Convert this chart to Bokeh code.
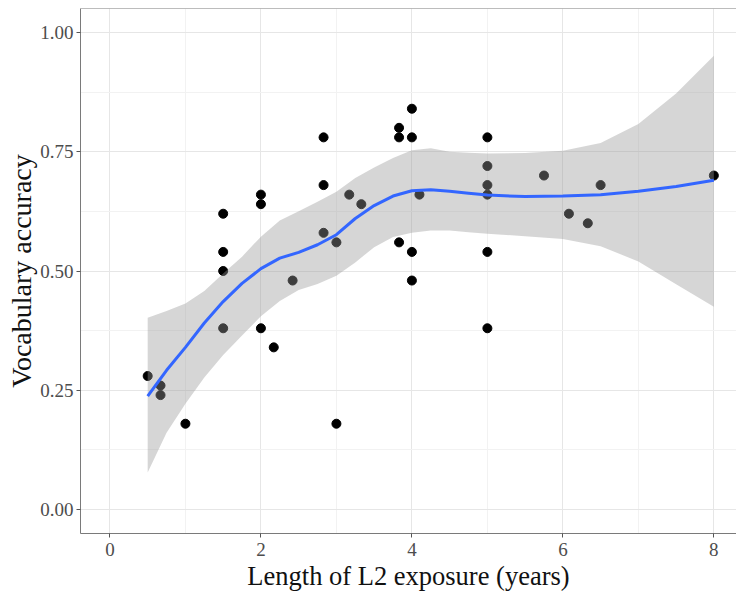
from bokeh.plotting import figure
from bokeh.models import Range1d, FixedTicker, Span
from bokeh.embed import file_html
from bokeh.resources import INLINE

# Observed data (years of L2 exposure, vocabulary accuracy)
exposure = [0.5, 0.67, 0.67, 1.0, 1.5, 1.5, 1.5, 1.5, 2.0, 2.0, 2.0, 2.17,
            2.42, 2.83, 2.83, 2.83, 3.0, 3.0, 3.17, 3.33, 3.83, 3.83, 3.83,
            4.0, 4.0, 4.0, 4.0, 4.1, 5.0, 5.0, 5.0, 5.0, 5.0, 5.0, 5.75,
            6.08, 6.33, 6.5, 8.0]
accuracy = [0.28, 0.26, 0.24, 0.18, 0.62, 0.54, 0.50, 0.38, 0.66, 0.64, 0.38, 0.34,
            0.48, 0.78, 0.68, 0.58, 0.56, 0.18, 0.66, 0.64, 0.80, 0.78, 0.56,
            0.84, 0.78, 0.54, 0.48, 0.66, 0.78, 0.72, 0.68, 0.66, 0.54, 0.38, 0.70,
            0.62, 0.60, 0.68, 0.70]

# Loess smooth and its confidence band
smooth_x = [0.5, 0.75, 1.0, 1.25, 1.5, 1.75, 2.0, 2.25, 2.5, 2.75, 3.0, 3.25, 3.5,
            3.75, 4.0, 4.25, 4.5, 4.75, 5.0, 5.5, 6.0, 6.5, 7.0, 7.5, 8.0]
smooth_y = [0.238, 0.292, 0.340, 0.391, 0.436, 0.474, 0.505, 0.527, 0.539, 0.555, 0.576,
            0.610, 0.637, 0.657, 0.668, 0.670, 0.667, 0.663, 0.659, 0.656, 0.657,
            0.660, 0.667, 0.677, 0.690]
band_upper = [0.402, 0.416, 0.432, 0.458, 0.495, 0.530, 0.572, 0.606, 0.625, 0.645, 0.666,
              0.695, 0.717, 0.737, 0.753, 0.757, 0.750, 0.748, 0.746, 0.747, 0.752,
              0.768, 0.808, 0.872, 0.951]
band_lower = [0.078, 0.161, 0.222, 0.277, 0.324, 0.365, 0.405, 0.437, 0.460, 0.473, 0.490,
              0.518, 0.550, 0.571, 0.580, 0.585, 0.585, 0.581, 0.578, 0.573, 0.567,
              0.552, 0.520, 0.472, 0.425]

x_ticks = [0, 2, 4, 6, 8]
x_minor = [1, 3, 5, 7]
y_ticks = [0.0, 0.25, 0.5, 0.75, 1.0]
y_minor = [0.125, 0.375, 0.625, 0.875]
y_tick_labels = ["0.00", "0.25", "0.50", "0.75", "1.00"]

FONT = "Liberation Serif"

p = figure(width=736, height=593, output_backend="svg", toolbar_location=None,
           x_range=Range1d(-0.39, 8.30), y_range=Range1d(-0.05, 1.05),
           min_border_left=80, min_border_right=0, min_border_top=8,
           min_border_bottom=59)
p.outline_line_color = None
p.background_fill_color = "white"
p.border_fill_color = "white"

# axes
p.xaxis.ticker = FixedTicker(ticks=x_ticks, minor_ticks=x_minor)
p.yaxis.ticker = FixedTicker(ticks=y_ticks, minor_ticks=y_minor)
p.yaxis.major_label_overrides = {t: s for t, s in zip(y_ticks, y_tick_labels)}
p.xaxis.axis_label = "Length of L2 exposure (years)"
p.yaxis.axis_label = "Vocabulary accuracy"
for ax in (p.xaxis, p.yaxis):
    ax.axis_line_color = "#7a7a7a"
    ax.axis_line_width = 1
    ax.major_tick_line_color = "#555555"
    ax.major_tick_out = 4
    ax.major_tick_in = 0
    ax.minor_tick_line_color = None
    ax.major_label_text_font = FONT
    ax.major_label_text_font_size = "19px"
    ax.major_label_text_color = "#4d4d4d"
    ax.axis_label_text_font = FONT
    ax.axis_label_text_font_style = "normal"
    ax.axis_label_text_color = "#111111"
p.xaxis.axis_label_text_font_size = "26.5px"
p.yaxis.axis_label_text_font_size = "28px"
p.xaxis.major_label_standoff = 5
p.xaxis.axis_label_standoff = 2
p.yaxis.major_label_standoff = 3
p.yaxis.axis_label_standoff = 0

# grid
for g in (p.xgrid, p.ygrid):
    g.grid_line_color = "#e6e6e6"
    g.grid_line_width = 1
    g.minor_grid_line_color = "#f2f2f2"
    g.minor_grid_line_width = 1

p.add_layout(Span(location=1.05, dimension="width", line_color="#7a7a7a", line_width=1))

# points, then the translucent band on top (as in ggplot), then the line
p.scatter(exposure, accuracy, size=9, color="black")
p.varea(x=smooth_x, y1=band_lower, y2=band_upper, fill_color="#999999", fill_alpha=0.4)
p.line(smooth_x, smooth_y, line_color="#3366FF", line_width=3)

open("out.html", "w").write(file_html(p, INLINE))
